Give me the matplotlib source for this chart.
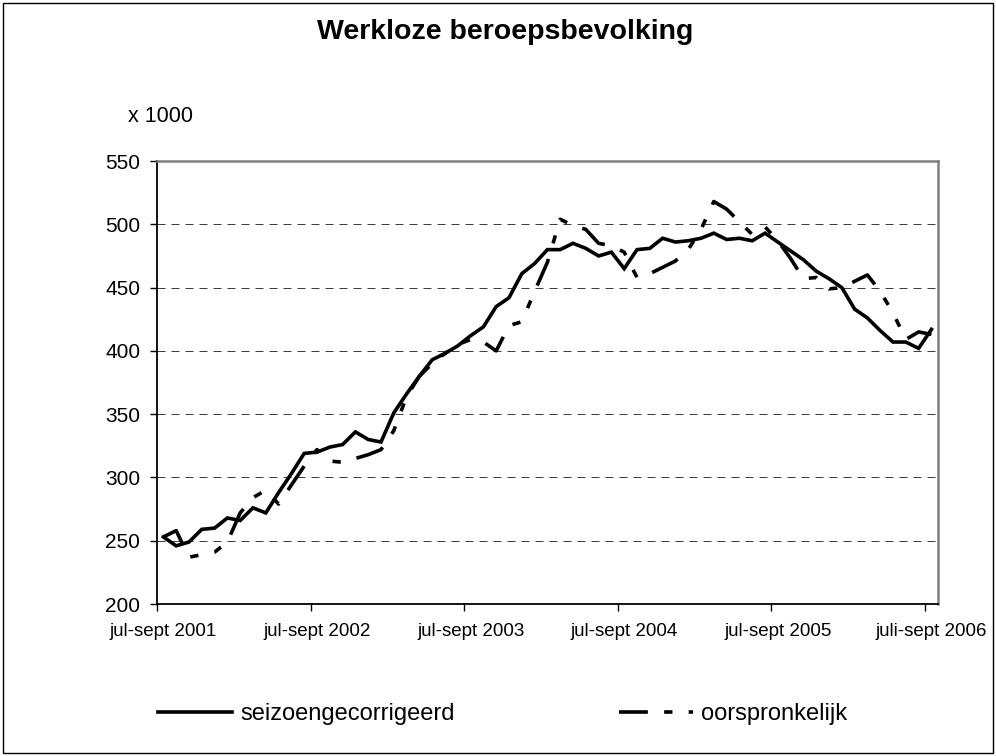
import matplotlib
matplotlib.use('Agg')
import matplotlib.pyplot as plt
from matplotlib.patches import Rectangle

# --- DATA (x 1000, voortschrijdende kwartalen vanaf jul-sept 2001) ---
seizoen = [253, 246, 249, 259, 260, 268, 266, 276, 272, 288,
           303, 319, 320, 324, 326, 336, 330, 328, 351, 366,
           380, 393, 398, 404, 412, 419, 435, 442, 461, 469,
           480, 480, 485, 481, 475, 478, 465, 480, 481, 489,
           486, 487, 489, 493, 488, 489, 487, 493, 486, 479,
           472, 463, 457, 450, 433, 426, 416, 407, 407, 402,
           417]
oorspr = [253, 258, 237, 239, 241, 249, 272, 284, 290, 279,
          294, 309, 322, 313, 312, 315, 318, 322, 337, 364,
          380, 390, 398, 405, 409, 407, 400, 420, 423, 447,
          470, 504, 499, 496, 485, 483, 478, 458, 461, 466,
          471, 480, 496, 518, 512, 502, 492, 498, 487, 473,
          457, 458, 449, 450, 455, 460, 447, 430, 409, 415,
          413]
tick_labels = ['jul-sept 2001', 'jul-sept 2002', 'jul-sept 2003',
               'jul-sept 2004', 'jul-sept 2005', 'juli-sept 2006']
label_pos = [0, 12, 24, 36, 48, 60]
y_ticks = [200, 250, 300, 350, 400, 450, 500, 550]

plt.rcParams['font.family'] = ['Liberation Sans', 'DejaVu Sans']

fig = plt.figure(figsize=(9.96, 7.56), dpi=100)
ax = fig.add_axes([0.1576, 0.201, 0.784, 0.586])

x = list(range(len(seizoen)))
ax.plot(x, seizoen, color='black', lw=2.6, solid_joinstyle='miter',
        label='seizoengecorrigeerd')
ax.plot(x, oorspr, color='black', lw=2.6, dash_capstyle='butt',
        linestyle=(0, (8, 4.5, 2.3, 4.5, 2.3, 4.5)), label='oorspronkelijk')

ax.set_xlim(-0.5, len(seizoen) - 0.5)
ax.set_ylim(200, 550)
ax.set_yticks(y_ticks)
ax.tick_params(axis='y', labelsize=15, length=5, width=1, pad=7, direction='out')

# labels onder de punten, streepjes op de categoriegrenzen
ax.set_xticks(label_pos)
ax.set_xticklabels(tick_labels, fontsize=13.5)
ax.set_xticks([p - 0.5 for p in label_pos], minor=True)
ax.tick_params(axis='x', which='major', length=0, pad=14)
ax.tick_params(axis='x', which='minor', length=5, width=1, direction='out')

ax.yaxis.grid(True, color='#404040', lw=0.72, linestyle=(0, (8, 6)))
ax.set_axisbelow(True)

for s in ['top', 'right']:
    ax.spines[s].set_color('#808080')
    ax.spines[s].set_linewidth(1.8)
for s in ['left', 'bottom']:
    ax.spines[s].set_color('black')
    ax.spines[s].set_linewidth(1.3)

fig.text(0.507, 1 - 32 / 756, 'Werkloze beroepsbevolking', ha='center', va='center',
         fontsize=20.5, fontweight='bold')
fig.text(128 / 996, 1 - 117 / 756, 'x 1000', ha='left', va='center', fontsize=15.5)

leg = ax.legend(loc='center left', bbox_to_anchor=(158 / 996, 1 - 714 / 756),
                bbox_transform=fig.transFigure, ncol=2, frameon=False,
                fontsize=17, handlelength=3.14, handletextpad=0.34,
                columnspacing=6.95, borderpad=0, borderaxespad=0)

fig.patches.append(Rectangle((0.003, 0.004), 0.994, 0.992, transform=fig.transFigure,
                             fill=False, edgecolor='black', lw=1))

fig.savefig('out.png', dpi=100)
